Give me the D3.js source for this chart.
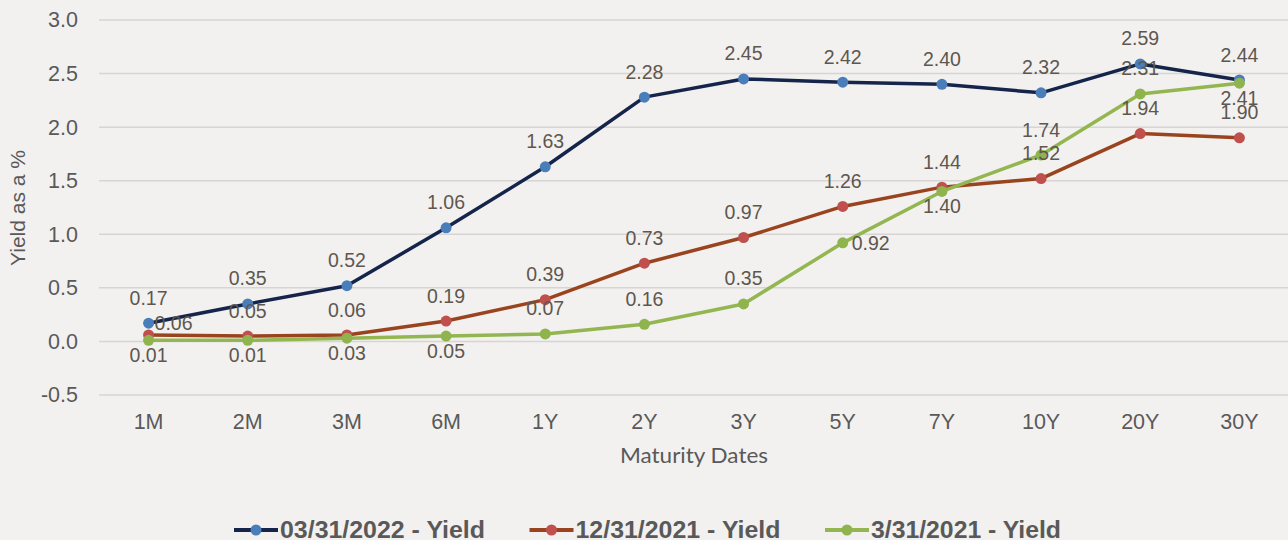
<!DOCTYPE html>
<html>
<head>
<meta charset="utf-8">
<script src="https://cdn.jsdelivr.net/npm/d3@7"></script>
<style>
  body { margin: 0; background: #f2f1ef; }
  svg { display: block; font-family: "Liberation Sans", Arial, sans-serif; }
</style>
</head>
<body>
<svg width="1288" height="540"></svg>
<script>
// maturities and yields (%)
var maturities = ["1M", "2M", "3M", "6M", "1Y", "2Y", "3Y", "5Y", "7Y", "10Y", "20Y", "30Y"];
var yield2022q1 = [0.17, 0.35, 0.52, 1.06, 1.63, 2.28, 2.45, 2.42, 2.40, 2.32, 2.59, 2.44];
var yield2021q4 = [0.06, 0.05, 0.06, 0.19, 0.39, 0.73, 0.97, 1.26, 1.44, 1.52, 1.94, 1.90];
var yield2021q1 = [0.01, 0.01, 0.03, 0.05, 0.07, 0.16, 0.35, 0.92, 1.40, 1.74, 2.31, 2.41];
var seriesNames = ["03/31/2022 - Yield", "12/31/2021 - Yield", "3/31/2021 - Yield"];
var yTicks = [-0.5, 0, 0.5, 1.0, 1.5, 2.0, 2.5, 3.0];

// where each data label sits relative to its point
// t = above, b = below, r = right, ru = right and a bit up
var labelPos = [
    ["t","t","t","t","t","t","t","t","t","t","t","t"],
    ["ru","t","t","t","t","t","t","t","t","t","t","t"],
    ["b","b","b","b","t","t","t","r","b","t","t","b"]
];

var lineColors = ["#15244a", "#9a441f", "#93b650"];
var dotColors = ["#4a7ebb", "#c0504d", "#8fb44e"];
var textGrey = "#595959";
var labelGrey = "#5e574f";

var series = [yield2022q1, yield2021q4, yield2021q1];

var svg = d3.select("svg");

var x = d3.scaleBand().domain(maturities).range([99, 1289]);
var y = d3.scaleLinear().domain([-0.5, 3.0]).range([395, 20]);

// gridlines
svg.append("g")
    .selectAll("line")
    .data(yTicks)
    .enter().append("line")
    .attr("x1", 99)
    .attr("x2", 1288)
    .attr("y1", function (d) { return y(d); })
    .attr("y2", function (d) { return y(d); })
    .attr("stroke", "#d6d5d3")
    .attr("stroke-width", 1.5);

// y axis labels
svg.append("g")
    .attr("transform", "translate(78,0)")
    .call(d3.axisLeft(y).tickValues(yTicks).tickSize(0).tickPadding(0)
        .tickFormat(function (d) { return d.toFixed(1); }))
    .call(function (g) { g.select(".domain").remove(); })
    .selectAll("text")
    .attr("font-size", "21.5px")
    .attr("font-family", "Liberation Sans, Arial, sans-serif")
    .attr("fill", textGrey);

// x axis labels
svg.append("g")
    .attr("transform", "translate(0,414)")
    .call(d3.axisBottom(x).tickSize(0).tickPadding(0))
    .call(function (g) { g.select(".domain").remove(); })
    .selectAll("text")
    .attr("font-size", "21.5px")
    .attr("font-family", "Liberation Sans, Arial, sans-serif")
    .attr("fill", textGrey);

svg.append("text")
    .attr("transform", "translate(25,208) rotate(-90)")
    .attr("text-anchor", "middle")
    .attr("font-size", "21px")
    .attr("fill", textGrey)
    .text("Yield as a %");

svg.append("text")
    .attr("x", 694)
    .attr("y", 463)
    .attr("text-anchor", "middle")
    .attr("font-size", "21px")
    .attr("font-family", "Lato, Liberation Sans, sans-serif")
    .attr("textLength", 148)
    .attr("lengthAdjust", "spacingAndGlyphs")
    .attr("fill", textGrey)
    .text("Maturity Dates");

var cx = function (d, i) { return x(maturities[i]) + x.bandwidth() / 2; };

var line = d3.line()
    .x(function (d, i) { return x(maturities[i]) + x.bandwidth() / 2; })
    .y(function (d) { return y(d); });

series.forEach(function (vals, s) {
    var g = svg.append("g");
    g.append("path")
        .datum(vals)
        .attr("d", line)
        .attr("fill", "none")
        .attr("stroke", lineColors[s])
        .attr("stroke-width", 3.5)
        .attr("stroke-linejoin", "round");
    g.selectAll("circle")
        .data(vals)
        .enter().append("circle")
        .attr("cx", cx)
        .attr("cy", function (d) { return y(d); })
        .attr("r", 5.5)
        .attr("fill", dotColors[s]);
});

// data labels on top
series.forEach(function (vals, s) {
    svg.append("g")
        .selectAll("text")
        .data(vals)
        .enter().append("text")
        .attr("font-size", "19.5px")
        .attr("fill", labelGrey)
        .attr("text-anchor", function (d, i) { return labelPos[s][i].charAt(0) == "r" ? "start" : "middle"; })
        .attr("x", function (d, i) {
            var p = labelPos[s][i];
            if (p == "r") return cx(d, i) + 9;
            if (p == "ru") return cx(d, i) + 6;
            return cx(d, i);
        })
        .attr("y", function (d, i) {
            var p = labelPos[s][i];
            if (p == "t") return y(d) - 18.5;
            if (p == "b") return y(d) + 21.5;
            if (p == "ru") return y(d) - 5;
            return y(d) + 7;
        })
        .text(function (d) { return d.toFixed(2); });
});

// legend
var legendText = [205, 205, 190];
var legend = svg.append("g").attr("transform", "translate(234,530)");
seriesNames.forEach(function (name, s) {
    var item = legend.append("g").attr("transform", "translate(" + (s * 295.5) + ",0)");
    item.append("line")
        .attr("x1", 0).attr("x2", 44)
        .attr("stroke", lineColors[s])
        .attr("stroke-width", 4);
    item.append("circle")
        .attr("cx", 22).attr("r", 5.5)
        .attr("fill", dotColors[s]);
    item.append("text")
        .attr("x", 46)
        .attr("y", 7.5)
        .attr("font-size", "23px")
        .attr("font-weight", "bold")
        .attr("fill", textGrey)
        .attr("textLength", legendText[s])
        .attr("lengthAdjust", "spacingAndGlyphs")
        .text(name);
});
</script>
</body>
</html>
